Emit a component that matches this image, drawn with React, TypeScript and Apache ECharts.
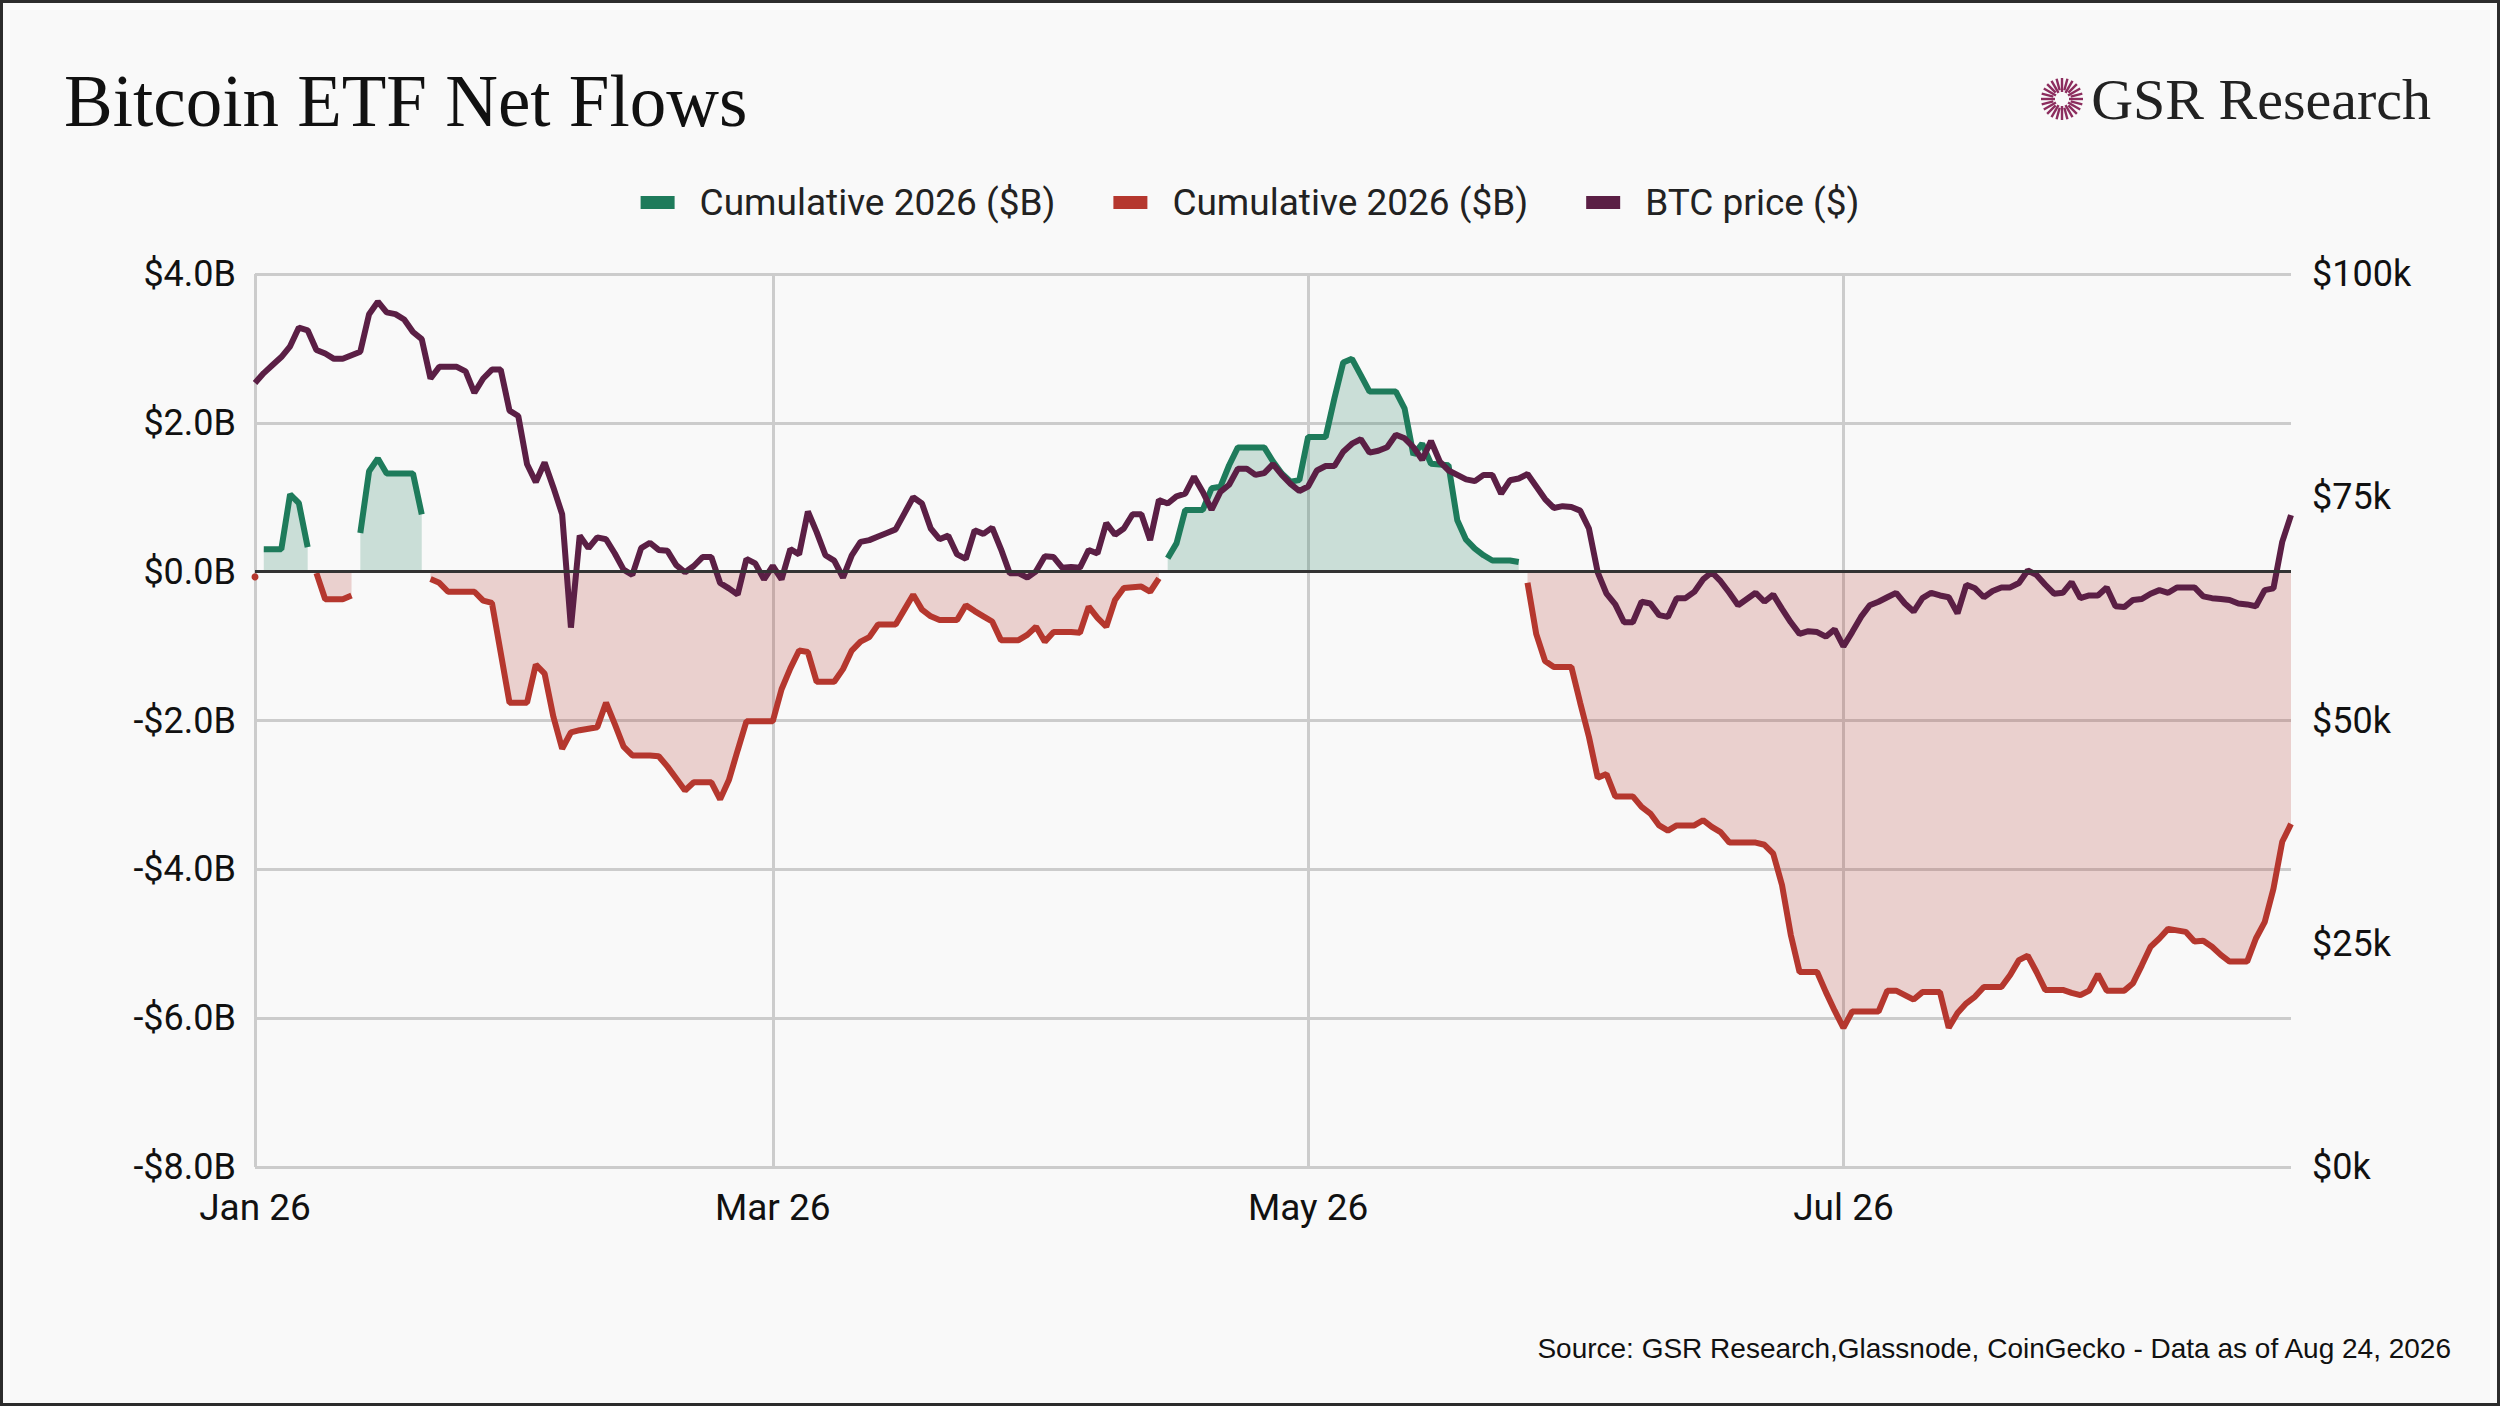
import React, { useEffect, useRef } from 'react';
import * as echarts from 'echarts';

// cumulative 2026 net flows, $B, one value per calendar day
const flowJan = [-0.07, 0.3, 0.3, 0.3, 1.04, 0.92, 0.33, -0.02, -0.37, -0.37, -0.37, -0.32, 0.52, 1.35, 1.52, 1.32,
  1.32, 1.32, 1.32, 0.77, -0.1, -0.15, -0.27, -0.27, -0.27, -0.27, -0.39, -0.42, -1.09, -1.76, -1.76];
const flowFeb = [-1.76, -1.25, -1.37, -1.95, -2.38, -2.16, -2.13, -2.11, -2.09, -1.76, -2.05, -2.35, -2.47, -2.47,
  -2.47, -2.48, -2.62, -2.78, -2.94, -2.83, -2.83, -2.83, -3.06, -2.8, -2.4, -2.01, -2.01, -2.01];
const flowMar = [-2.01, -1.58, -1.3, -1.06, -1.08, -1.48, -1.48, -1.48, -1.31, -1.06, -0.94, -0.88, -0.71, -0.71,
  -0.71, -0.51, -0.31, -0.51, -0.6, -0.65, -0.65, -0.65, -0.45, -0.53, -0.6, -0.67, -0.92, -0.92, -0.92, -0.85, -0.74];
const flowApr = [-0.94, -0.81, -0.81, -0.81, -0.82, -0.47, -0.62, -0.74, -0.38, -0.22, -0.21, -0.2, -0.27, -0.09,
  0.18, 0.38, 0.83, 0.83, 0.83, 1.12, 1.14, 1.43, 1.67, 1.67, 1.67, 1.67, 1.48, 1.32, 1.21, 1.23];
const flowMay = [1.81, 1.81, 1.81, 2.33, 2.81, 2.86, 2.64, 2.42, 2.42, 2.42, 2.42, 2.19, 1.57, 1.72, 1.45, 1.44,
  1.43, 0.69, 0.43, 0.31, 0.22, 0.15, 0.15, 0.15, 0.13, -0.15, -0.84, -1.2, -1.28, -1.28, -1.28];
const flowJun = [-1.76, -2.22, -2.77, -2.72, -3.02, -3.02, -3.02, -3.16, -3.25, -3.41, -3.48, -3.41, -3.41, -3.41,
  -3.34, -3.43, -3.5, -3.64, -3.64, -3.64, -3.64, -3.67, -3.79, -4.21, -4.88, -5.38, -5.38, -5.38, -5.65, -5.9];
const flowJul = [-6.13, -5.91, -5.91, -5.91, -5.91, -5.63, -5.63, -5.69, -5.75, -5.65, -5.65, -5.65, -6.13, -5.93,
  -5.8, -5.71, -5.58, -5.58, -5.58, -5.42, -5.22, -5.16, -5.38, -5.62, -5.62, -5.62, -5.66, -5.69, -5.63, -5.41, -5.63];
const flowAug = [-5.63, -5.63, -5.53, -5.29, -5.04, -4.93, -4.8, -4.82, -4.84, -4.97, -4.96, -5.04, -5.15, -5.24,
  -5.24, -5.24, -4.93, -4.71, -4.26, -3.63, -3.39];

// BTC price, $k
const btcJan = [87.8, 88.9, 89.8, 90.7, 91.9, 94.0, 93.7, 91.5, 91.1, 90.5, 90.5, 90.9, 91.3, 95.5, 96.9, 95.7,
  95.5, 94.9, 93.5, 92.7, 88.3, 89.6, 89.6, 89.6, 89.1, 86.7, 88.3, 89.3, 89.3, 84.7, 84.1];
const btcFeb = [78.7, 76.7, 78.9, 76.1, 73.1, 60.4, 70.7, 69.3, 70.5, 70.3, 68.7, 66.9, 66.3, 69.3, 69.9, 69.1,
  69.0, 67.4, 66.6, 67.3, 68.3, 68.3, 65.4, 64.8, 64.1, 68.1, 67.6, 65.8];
const btcMar = [67.3, 65.8, 69.2, 68.6, 73.4, 71.1, 68.5, 67.9, 66.0, 68.5, 70.0, 70.2, 70.6, 71.0, 71.4, 73.2,
  75.0, 74.3, 71.5, 70.3, 70.7, 68.6, 68.1, 71.3, 70.9, 71.6, 69.2, 66.5, 66.5, 66.0, 66.7];
const btcApr = [68.4, 68.3, 67.1, 67.2, 67.1, 69.1, 68.7, 72.1, 70.8, 71.5, 73.1, 73.1, 70.2, 74.7, 74.3, 75.1,
  75.4, 77.3, 75.6, 73.6, 75.6, 76.4, 78.2, 78.2, 77.5, 77.7, 78.7, 77.5, 76.5, 75.7];
const btcMay = [76.2, 78.0, 78.5, 78.5, 80.1, 81.0, 81.5, 80.0, 80.2, 80.6, 82.0, 81.6, 80.6, 79.2, 81.3, 79.0,
  78.0, 77.5, 77.0, 76.8, 77.5, 77.5, 75.4, 76.9, 77.1, 77.6, 76.2, 74.8, 73.8, 74.0, 73.9];
const btcJun = [73.5, 71.5, 66.6, 64.2, 63.0, 61.0, 61.0, 63.3, 63.1, 61.8, 61.6, 63.7, 63.7, 64.4, 65.8, 66.6,
  65.6, 64.3, 62.9, 63.6, 64.3, 63.3, 64.1, 62.5, 61.0, 59.7, 60.0, 59.9, 59.4, 60.2];
const btcJul = [58.3, 59.9, 61.6, 62.9, 63.3, 63.8, 64.3, 63.1, 62.2, 63.7, 64.3, 64.0, 63.8, 62.0, 65.2, 64.8,
  63.8, 64.5, 64.9, 64.9, 65.4, 66.8, 66.3, 65.2, 64.2, 64.3, 65.5, 63.7, 64.0, 64.0, 64.9];
const btcAug = [62.8, 62.7, 63.5, 63.6, 64.2, 64.6, 64.3, 64.9, 64.9, 64.9, 63.9, 63.7, 63.6, 63.5, 63.1, 63.0,
  62.8, 64.6, 64.8, 70.0, 73.0];

const tickDates = ['2026-01-01', '2026-03-01', '2026-05-01', '2026-07-01'];
const monthNames = ['Jan', 'Feb', 'Mar', 'Apr', 'May', 'Jun', 'Jul', 'Aug', 'Sep', 'Oct', 'Nov', 'Dec'];
const legendText: Record<string, string> = {
  inflow: 'Cumulative 2026 ($B)',
  outflow: 'Cumulative 2026 ($B)',
  btc: 'BTC price ($)',
};

const flows = [...flowJan, ...flowFeb, ...flowMar, ...flowApr, ...flowMay, ...flowJun, ...flowJul, ...flowAug];
const btc = [...btcJan, ...btcFeb, ...btcMar, ...btcApr, ...btcMay, ...btcJun, ...btcJul, ...btcAug];
const dates = flows.map((_, i) => new Date(Date.UTC(2026, 0, 1 + i)).toISOString().slice(0, 10));

const GREEN = '#1e7b5b';
const RED = '#b5372e';
const PLUM = '#5b1f45';
const FONT = 'Roboto';

const App: React.FC = () => {
  const chartRef = useRef<HTMLDivElement | null>(null);

  useEffect(() => {
    document.body.style.margin = '0';
    document.body.style.overflow = 'hidden';
    const chart = echarts.init(chartRef.current!, undefined, { renderer: 'svg' });

    // sunburst mark next to the logo text
    const rays: any[] = [];
    for (let k = 0; k < 24; k++) {
      const a = (k / 24) * Math.PI * 2;
      const r0 = k % 2 ? 9 : 7;
      rays.push({
        type: 'line',
        shape: { x1: Math.cos(a) * r0, y1: Math.sin(a) * r0, x2: Math.cos(a) * 21, y2: Math.sin(a) * 21 },
        style: { stroke: '#8c2d5e', lineWidth: 2.4 },
      });
    }

    const isTick = (v: string) => tickDates.includes(v);

    // isolated first (negative) point only shows as a dot
    const outflowData: any[] = flows.map((v) => (v < 0 ? v : null));
    if (outflowData[0] !== null && outflowData[1] === null) {
      outflowData[0] = { value: outflowData[0], symbol: 'circle', symbolSize: 7 };
    }

    const option = {
      animation: false,
      backgroundColor: '#f9f9f9',
      graphic: [
        {
          type: 'rect',
          shape: { x: 1.5, y: 1.5, width: 2497, height: 1403 },
          style: { fill: 'none', stroke: '#2b2b2b', lineWidth: 3 },
          silent: true,
        },
        {
          type: 'text',
          x: 64,
          y: 101,
          style: {
            text: 'Bitcoin ETF Net Flows',
            font: '73px "Liberation Serif", serif',
            fill: '#111',
            verticalAlign: 'middle',
          },
        },
        { type: 'group', x: 2062, y: 99, children: rays },
        {
          type: 'text',
          x: 2431,
          y: 99,
          style: {
            text: 'GSR Research',
            font: '58px "Liberation Serif", serif',
            fill: '#222',
            align: 'right',
            verticalAlign: 'middle',
          },
        },
        {
          type: 'text',
          x: 2451,
          y: 1348,
          style: {
            text: 'Source: GSR Research,Glassnode, CoinGecko - Data as of Aug 24, 2026',
            font: '28px "Liberation Sans", Arial, sans-serif',
            fill: '#111',
            align: 'right',
            verticalAlign: 'middle',
          },
        },
      ],
      legend: {
        top: 179,
        left: 'center',
        icon: 'rect',
        itemWidth: 34,
        itemHeight: 13,
        itemGap: 58,
        data: ['inflow', 'outflow', 'btc'],
        formatter: (name: string) => legendText[name],
        textStyle: { fontFamily: FONT, fontSize: 37, color: '#222', padding: [0, 0, 0, 20] },
      },
      grid: { left: 255, right: 209, top: 274, bottom: 239 },
      xAxis: {
        type: 'category',
        data: dates,
        boundaryGap: false,
        axisLine: { show: false },
        axisTick: { show: false },
        axisLabel: {
          interval: (_i: number, v: string) => isTick(v),
          formatter: (v: string) => `${monthNames[+v.slice(5, 7) - 1]} 26`,
          fontFamily: FONT,
          fontSize: 37,
          color: '#111',
          margin: 22,
        },
        splitLine: {
          show: true,
          interval: (_i: number, v: string) => isTick(v),
          lineStyle: { color: '#cccccc', width: 3 },
        },
      },
      yAxis: [
        {
          type: 'value',
          min: -8,
          max: 4,
          interval: 2,
          axisLine: { show: false },
          axisTick: { show: false },
          axisLabel: {
            formatter: (v: number) => (v < 0 ? `-$${Math.abs(v).toFixed(1)}B` : `$${v.toFixed(1)}B`),
            fontFamily: FONT,
            fontSize: 36,
            color: '#111',
            margin: 19,
          },
          splitLine: { lineStyle: { color: '#cccccc', width: 3 } },
        },
        {
          type: 'value',
          min: 0,
          max: 100,
          interval: 25,
          axisLine: { show: false },
          axisTick: { show: false },
          axisLabel: {
            formatter: (v: number) => `$${v}k`,
            fontFamily: FONT,
            fontSize: 36,
            color: '#111',
            margin: 21,
          },
          splitLine: { show: false },
        },
      ],
      series: [
        {
          name: 'inflow',
          type: 'line',
          yAxisIndex: 0,
          data: flows.map((v) => (v >= 0 ? v : null)),
          showSymbol: false,
          connectNulls: false,
          color: GREEN,
          lineStyle: { color: GREEN, width: 6 },
          areaStyle: { color: 'rgba(30,123,91,0.3)' },
          z: 2,
        },
        {
          name: 'outflow',
          type: 'line',
          yAxisIndex: 0,
          data: outflowData,
          showSymbol: true,
          symbol: 'none',
          connectNulls: false,
          color: RED,
          lineStyle: { color: RED, width: 6 },
          areaStyle: { color: 'rgba(181,55,46,0.3)' },
          z: 2,
          markLine: {
            silent: true,
            symbol: 'none',
            label: { show: false },
            lineStyle: { color: '#333333', width: 3, type: 'solid' },
            data: [{ yAxis: 0 }],
          },
        },
        {
          name: 'btc',
          type: 'line',
          yAxisIndex: 1,
          data: btc,
          showSymbol: false,
          color: PLUM,
          lineStyle: { color: PLUM, width: 6 },
          z: 4,
        },
      ],
    };

    chart.setOption(option);
    return () => {
      chart.dispose();
    };
  }, []);

  return <div ref={chartRef} style={{ width: '2500px', height: '1406px' }} />;
};

export default App;
